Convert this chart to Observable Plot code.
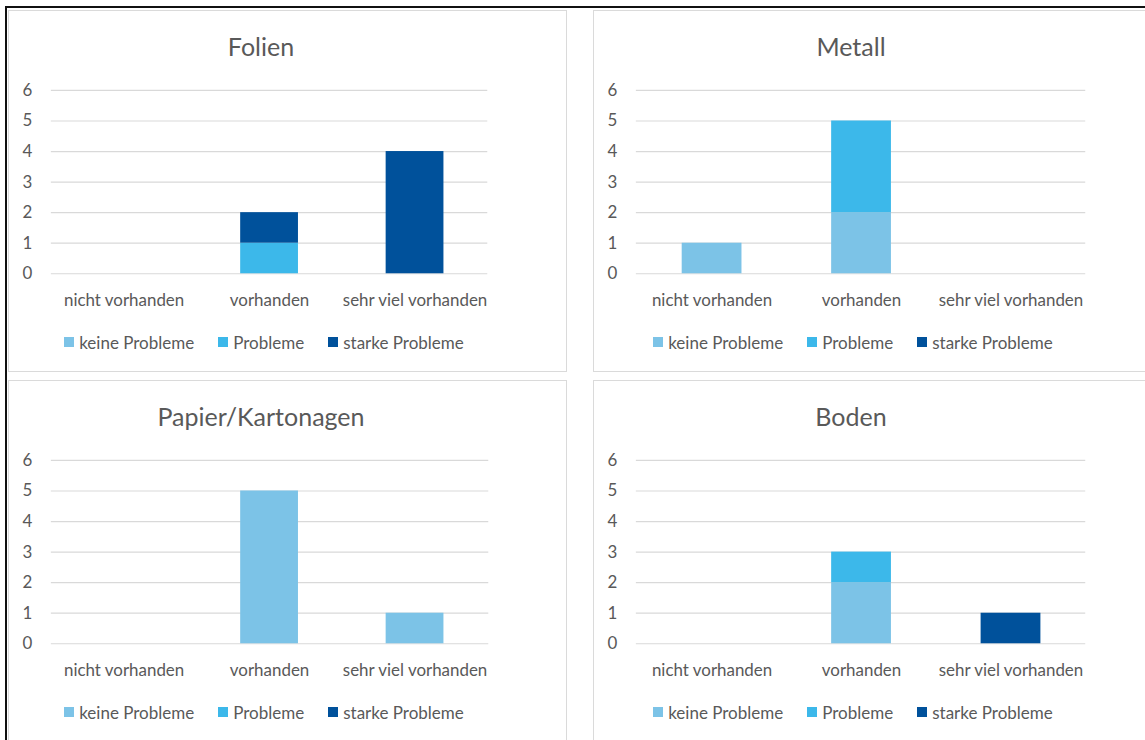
<!DOCTYPE html>
<html>
<head>
<meta charset="utf-8">
<script src="https://cdn.jsdelivr.net/npm/d3@7"></script>
<script src="https://cdn.jsdelivr.net/npm/@observablehq/plot@0.6"></script>
<style>
  html, body { margin: 0; padding: 0; background: #fff; }
  body { width: 1145px; height: 740px; position: relative; overflow: hidden; font-family: Lato, "Open Sans", sans-serif; }
  .frame { position: absolute; left: 5px; top: 6px; width: 1200px; height: 800px; border-top: 2px solid #111; border-left: 2px solid #111; }
  .panel { position: absolute; width: 559px; height: 362px; border: 1.5px solid #dadada; box-sizing: border-box; background: #fff; }
  .title { position: absolute; top: 18px; font-size: 25px; color: #595959; text-align: center; line-height: 34px; white-space: nowrap; }
  .plot { position: absolute; left: 0; top: 60px; }
  .legend { position: absolute; top: 321px; height: 20px; display: flex; justify-content: center; align-items: center; gap: 24px; font-size: 17px; color: #595959; white-space: nowrap; }
  .legend .item { display: flex; align-items: center; }
  .legend .sw { width: 10px; height: 10px; margin-right: 5px; display: inline-block; }
</style>
</head>
<body>
<div class="frame"></div>
<div id="root"></div>
<script>
// ---- data ----
const categories = ["nicht vorhanden", "vorhanden", "sehr viel vorhanden"];
const seriesNames = ["keine Probleme", "Probleme", "starke Probleme"];
const seriesColors = ["#7cc3e7", "#3cb8ea", "#00519b"];
const yTicks = [0, 1, 2, 3, 4, 5, 6];
const materials = ["Folien", "Metall", "Papier/Kartonagen", "Boden"];
// values per category: [keine Probleme, Probleme, starke Probleme]
const folienValues = [[0, 0, 0], [0, 1, 1], [0, 0, 4]];
const metallValues = [[1, 0, 0], [2, 3, 0], [0, 0, 0]];
const papierValues = [[0, 0, 0], [5, 0, 0], [1, 0, 0]];
const bodenValues  = [[0, 0, 0], [2, 1, 0], [0, 0, 1]];
const allValues = [folienValues, metallValues, papierValues, bodenValues];

// ---- layout (styles only) ----
const panels = [
  {left: 8,   top: 10,  mL: 42, mR: 79, center: 252, lcenter: 255},
  {left: 593, top: 10,  mL: 42, mR: 66, center: 257, lcenter: 259},
  {left: 8,   top: 380, mL: 42, mR: 78, center: 252, lcenter: 255},
  {left: 593, top: 380, mL: 42, mR: 66, center: 257, lcenter: 259}
];

const root = document.getElementById("root");
const textColor = "#595959";

materials.forEach((mat, i) => {
  const cfg = panels[i];
  const rows = [];
  categories.forEach((cat, ci) => {
    seriesNames.forEach((s, si) => {
      rows.push({category: cat, series: s, value: allValues[i][ci][si]});
    });
  });

  const panel = document.createElement("div");
  panel.className = "panel";
  panel.style.left = cfg.left + "px";
  panel.style.top = cfg.top + "px";

  const title = document.createElement("div");
  title.className = "title";
  title.style.left = "0px";
  title.style.width = (2 * cfg.center) + "px";
  title.textContent = mat;
  panel.appendChild(title);

  const chart = Plot.plot({
    width: 559,
    height: 248,
    marginTop: 19,
    marginBottom: 45,
    marginLeft: cfg.mL,
    marginRight: cfg.mR,
    style: {fontFamily: "Lato, 'Open Sans', sans-serif", fontSize: "17px", color: textColor, background: "transparent"},
    x: {type: "band", domain: categories, paddingInner: 0.6, paddingOuter: 0.3},
    y: {domain: [0, 6]},
    color: {domain: seriesNames, range: seriesColors},
    marks: [
      Plot.ruleY(yTicks, {stroke: "#d9d9d9", strokeWidth: 1.2}),
      Plot.barY(rows.filter(d => d.value > 0), {x: "category", y: "value", fill: "series"}),
      Plot.axisY({ticks: yTicks, tickFormat: "d", tickSize: 0, tickPadding: 19, label: null, fill: textColor, fontSize: 17}),
      Plot.axisX({tickSize: 0, tickPadding: 20, label: null, fill: textColor, fontSize: 17})
    ]
  });
  chart.classList.add("plot");
  chart.style.position = "absolute";
  chart.style.left = "0px";
  chart.style.top = "60px";
  panel.appendChild(chart);

  const legend = document.createElement("div");
  legend.className = "legend";
  legend.style.left = "0px";
  legend.style.width = (2 * cfg.lcenter) + "px";
  seriesNames.forEach((s, si) => {
    const item = document.createElement("span");
    item.className = "item";
    const sw = document.createElement("span");
    sw.className = "sw";
    sw.style.background = seriesColors[si];
    item.appendChild(sw);
    item.appendChild(document.createTextNode(s));
    legend.appendChild(item);
  });
  panel.appendChild(legend);

  root.appendChild(panel);
});
</script>
</body>
</html>
